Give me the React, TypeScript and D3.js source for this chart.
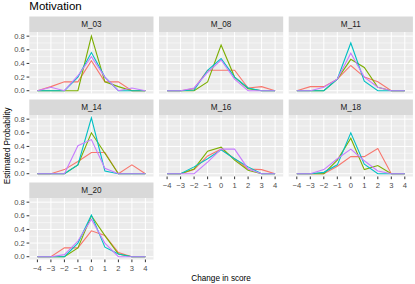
import React from "react";
import * as d3 from "d3";

const xValues = [-4, -3, -2, -1, 0, 1, 2, 3, 4];
const xTickLabels = ["−4", "−3", "−2", "−1", "0", "1", "2", "3", "4"];
const yTicks = [0, 0.2, 0.4, 0.6, 0.8];
const yMinorTicks = [0.1, 0.3, 0.5, 0.7];
const panelNames = ["M_03", "M_08", "M_11", "M_14", "M_16", "M_18", "M_20"];
const seriesColors = ["#F8766D", "#7CAE00", "#00BFC4", "#C77CFF"];

// each panel: [red, green, cyan, purple] series over xValues
const m03 = [
  [0, 0.06, 0.13, 0.13, 0.44, 0.13, 0.13, 0, 0],
  [0, 0, 0, 0, 0.8, 0.13, 0.06, 0, 0],
  [0, 0, 0, 0.2, 0.56, 0.2, 0, 0, 0],
  [0, 0.05, 0, 0.22, 0.5, 0.2, 0, 0.04, 0],
];
const m08 = [
  [0, 0, 0.03, 0.3, 0.3, 0.3, 0.04, 0.06, 0],
  [0, 0, 0, 0.13, 0.67, 0.2, 0.03, 0, 0],
  [0, 0, 0.01, 0.3, 0.47, 0.2, 0.04, 0, 0],
  [0, 0, 0.04, 0.27, 0.45, 0.17, 0, 0, 0],
];
const m11 = [
  [0, 0.06, 0.06, 0.17, 0.37, 0.2, 0.13, 0, 0],
  [0, 0, 0, 0.17, 0.46, 0.34, 0.05, 0, 0],
  [0, 0, 0, 0.17, 0.7, 0.14, 0, 0, 0],
  [0, 0, 0.05, 0.17, 0.55, 0.2, 0.05, 0, 0],
];
const m14 = [
  [0, 0, 0.06, 0.18, 0.31, 0.31, 0, 0.13, 0],
  [0, 0, 0, 0.13, 0.6, 0.3, 0, 0, 0],
  [0, 0, 0, 0.13, 0.82, 0.04, 0, 0, 0],
  [0, 0, 0, 0.41, 0.5, 0.08, 0, 0, 0],
];
const m16 = [
  [0, 0, 0.06, 0.26, 0.36, 0.22, 0.07, 0.06, 0],
  [0, 0, 0.07, 0.33, 0.39, 0.2, 0.05, 0, 0],
  [0, 0, 0.1, 0.22, 0.35, 0.22, 0.1, 0, 0],
  [0, 0, 0, 0.17, 0.36, 0.36, 0.07, 0, 0],
];
const m18 = [
  [0, 0, 0, 0.11, 0.25, 0.25, 0.37, 0, 0],
  [0, 0, 0, 0.2, 0.52, 0.06, 0.12, 0, 0],
  [0, 0, 0.02, 0.13, 0.6, 0.14, 0, 0, 0],
  [0, 0, 0.06, 0.22, 0.36, 0.19, 0.04, 0, 0],
];
const m20 = [
  [0, 0, 0.13, 0.13, 0.38, 0.31, 0.06, 0, 0],
  [0, 0, 0, 0.13, 0.6, 0.31, 0.04, 0, 0],
  [0, 0, 0, 0.2, 0.61, 0.14, 0.04, 0, 0],
  [0, 0, 0.03, 0.23, 0.55, 0.2, 0, 0, 0],
];
const panelData = [m03, m08, m11, m14, m16, m18, m20];

const W = 415;
const H = 284;
const FONT = "'Liberation Sans', Arial, Helvetica, sans-serif";

const plotLeft = 29.3;
const panelW = 124.2;
const gapX = 5.5;
const stripTop1 = 16.5;
const stripH = 15.5;
const panelH = 61.5;
const rowPitch = 83;

export default function App() {
  const allVals = panelData.flat(2);
  const yMax = d3.max(allVals) as number;
  const yMin = 0;
  const pad = (yMax - yMin) * 0.05;

  const x = d3
    .scalePoint<number>()
    .domain(xValues)
    .range([0, panelW])
    .padding(0.6);
  const y = d3
    .scaleLinear()
    .domain([yMin - pad, yMax + pad])
    .range([panelH, 0]);

  const line = d3
    .line<number>()
    .x((_, i) => x(xValues[i]) as number)
    .y((d) => y(d));

  const totalPanelsBottom = stripTop1 + 2 * rowPitch + stripH + panelH;
  const yTitleCenter = (stripTop1 + stripH + totalPanelsBottom) / 2;
  const plotRight = plotLeft + 3 * panelW + 2 * gapX;

  return (
    <svg
      width={W}
      height={H}
      style={{ position: "absolute", left: 0, top: 0, background: "#fff" }}
      fontFamily={FONT}
    >
      <text x={plotLeft} y={10} fontSize={11.5} fill="#000">
        Motivation
      </text>
      {panelNames.map((name, p) => {
        const row = Math.floor(p / 3);
        const col = p % 3;
        const left = plotLeft + col * (panelW + gapX);
        const sTop = stripTop1 + row * rowPitch;
        const pTop = sTop + stripH;
        const showX = p >= 4;
        const showY = col === 0;
        return (
          <g key={name}>
            <rect x={left} y={sTop} width={panelW} height={stripH} fill="#D9D9D9" />
            <text
              x={left + panelW / 2}
              y={sTop + stripH / 2 + 2.9}
              textAnchor="middle"
              fontSize={8.2}
              fill="#1A1A1A"
            >
              {name}
            </text>
            <g transform={`translate(${left},${pTop})`}>
              <rect x={0} y={0} width={panelW} height={panelH} fill="#EBEBEB" />
              {yMinorTicks.map((t) => (
                <line
                  key={"m" + t}
                  x1={0}
                  x2={panelW}
                  y1={y(t)}
                  y2={y(t)}
                  stroke="#fff"
                  strokeWidth={0.5}
                />
              ))}
              {yTicks.map((t) => (
                <line
                  key={"M" + t}
                  x1={0}
                  x2={panelW}
                  y1={y(t)}
                  y2={y(t)}
                  stroke="#fff"
                  strokeWidth={1}
                />
              ))}
              {xValues.map((v) => (
                <line
                  key={"x" + v}
                  x1={x(v)}
                  x2={x(v)}
                  y1={0}
                  y2={panelH}
                  stroke="#fff"
                  strokeWidth={1}
                />
              ))}
              {panelData[p].map((series, s) => (
                <path
                  key={s}
                  d={line(series) || ""}
                  fill="none"
                  stroke={seriesColors[s]}
                  strokeWidth={1.1}
                />
              ))}
              {showY &&
                yTicks.map((t) => (
                  <g key={"yt" + t}>
                    <line x1={-2.7} x2={0} y1={y(t)} y2={y(t)} stroke="#333333" strokeWidth={1} />
                    <text
                      x={-4.5}
                      y={y(t) + 2.7}
                      textAnchor="end"
                      fontSize={7.6}
                      fill="#4D4D4D"
                    >
                      {d3.format(".1f")(t)}
                    </text>
                  </g>
                ))}
              {showX &&
                xValues.map((v, i) => (
                  <g key={"xt" + v}>
                    <line
                      x1={x(v)}
                      x2={x(v)}
                      y1={panelH}
                      y2={panelH + 2.7}
                      stroke="#333333"
                      strokeWidth={1}
                    />
                    <text
                      x={x(v)}
                      y={panelH + 11}
                      textAnchor="middle"
                      fontSize={7.6}
                      fill="#4D4D4D"
                    >
                      {xTickLabels[i]}
                    </text>
                  </g>
                ))}
            </g>
          </g>
        );
      })}
      <text
        x={(plotLeft + plotRight) / 2}
        y={281}
        textAnchor="middle"
        fontSize={8.2}
        fill="#000"
      >
        Change in score
      </text>
      <text
        transform={`translate(9.5,${yTitleCenter}) rotate(-90)`}
        textAnchor="middle"
        fontSize={8.2}
        fill="#000"
      >
        Estimated Probability
      </text>
    </svg>
  );
}
